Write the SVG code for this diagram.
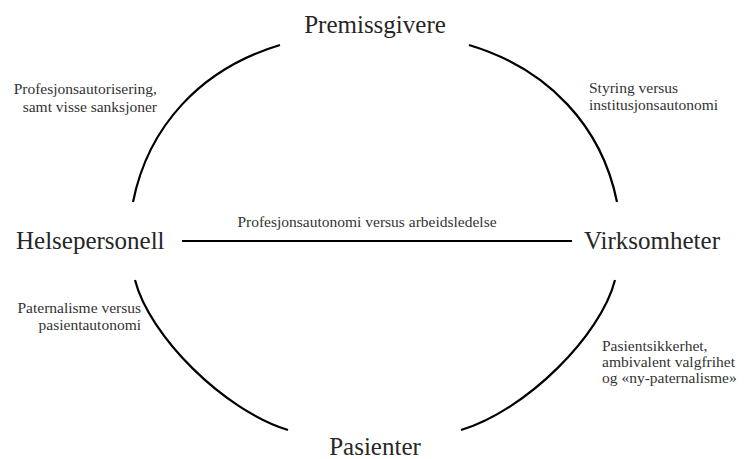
<svg xmlns="http://www.w3.org/2000/svg" width="745" height="459" viewBox="0 0 745 459">
<style>
.big{font-family:"Liberation Serif","Times New Roman",serif;font-size:25px;fill:#262626}
.sm{font-family:"Liberation Serif","Times New Roman",serif;font-size:15.5px;fill:#333333}
.ln{fill:none;stroke:#000;stroke-width:2.2}
</style>
<rect width="745" height="459" fill="#fff"/>
<g id="connectors">
<path class="ln" d="M133,202 C148,127 200,69 280,45"/>
<path class="ln" d="M469,45 C549,69 602,127 617,202"/>
<path class="ln" d="M135,280 C149,335 223,410 288,430"/>
<path class="ln" d="M615,280 C601,335 527,410 461,430"/>
<path class="ln" d="M182,241 L572,241"/>
</g>
<g id="premissgivere"><text class="big" x="375" y="33" text-anchor="middle">Premissgivere</text></g>
<g id="helsepersonell"><text class="big" x="16" y="249">Helsepersonell</text></g>
<g id="virksomheter"><text class="big" x="584" y="249">Virksomheter</text></g>
<g id="pasienter"><text class="big" x="375" y="455" text-anchor="middle">Pasienter</text></g>
<g id="label-tl"><text class="sm" text-anchor="end"><tspan x="157" y="94">Profesjonsautorisering,</tspan><tspan x="157" y="112">samt visse sanksjoner</tspan></text></g>
<g id="label-tr"><text class="sm"><tspan x="589" y="93">Styring versus</tspan><tspan x="589" y="110">institusjonsautonomi</tspan></text></g>
<g id="label-mid"><text class="sm" x="367" y="227" text-anchor="middle">Profesjonsautonomi versus arbeidsledelse</text></g>
<g id="label-bl"><text class="sm" text-anchor="end"><tspan x="141" y="313">Paternalisme versus</tspan><tspan x="141" y="330">pasientautonomi</tspan></text></g>
<g id="label-br"><text class="sm"><tspan x="602" y="351">Pasientsikkerhet,</tspan><tspan x="602" y="367">ambivalent valgfrihet</tspan><tspan x="602" y="383">og «ny-paternalisme»</tspan></text></g>
</svg>
